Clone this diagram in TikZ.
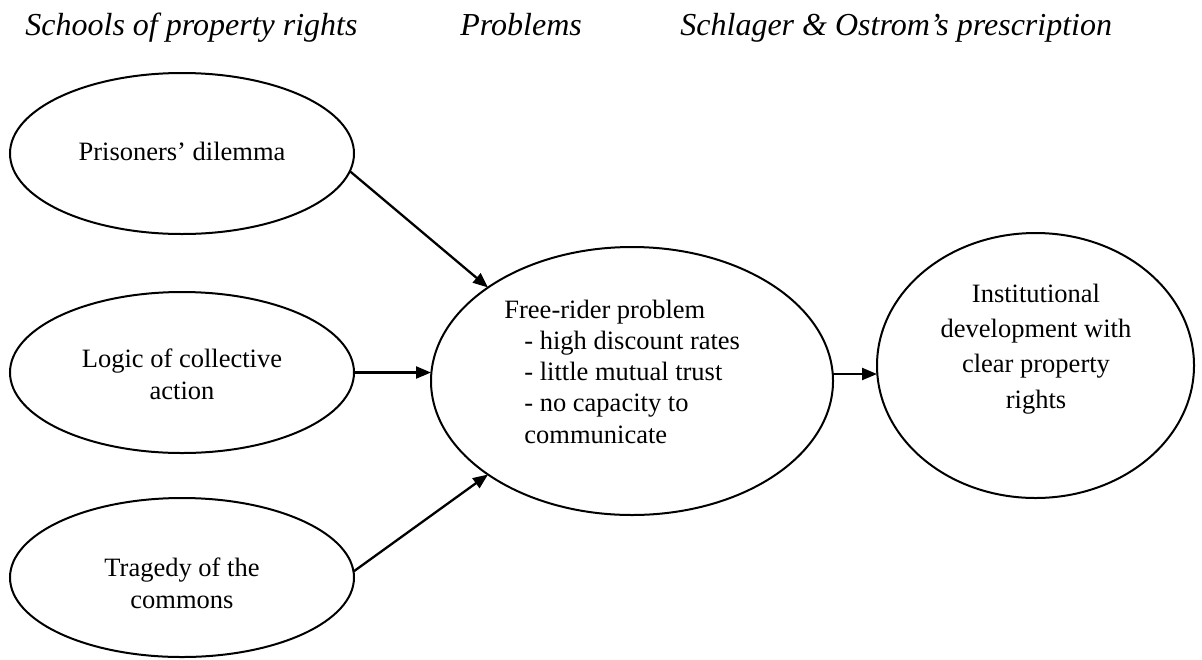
\documentclass[tikz,border=0pt]{standalone}
\usepackage{fontspec}
\setmainfont{Liberation Serif}
\usetikzlibrary{shapes.geometric,arrows.meta}

\tikzset{
  bubble/.style={draw, ellipse, line width=1pt, inner sep=0pt, outer sep=0pt},
  heading/.style={anchor=base west, inner sep=0pt, font=\fontsize{16}{19}\selectfont\itshape},
  label/.style={inner sep=0pt, font=\fontsize{13.25}{15.6}\selectfont},
  link/.style={line width=1.15pt, -{Triangle[length=7.5pt,width=6pt]}}
}

\begin{document}
\begin{tikzpicture}[x=0.5pt, y=-0.5pt]
  \useasboundingbox (0,0) rectangle (1202,659);

  % column headings
  \node[heading] (h1) at (25,35) {Schools of property rights};
  \node[heading] (h2) at (460,35) {Problems};
  \node[heading] (h3) at (680,35) {Schlager \& Ostrom’s prescription};

  % schools of thought
  \node[bubble, minimum width=172pt, minimum height=80.5pt] (pd) at (182,153.5) {};
  \node[bubble, minimum width=172pt, minimum height=80.5pt] (lc) at (182,372.5) {};
  \node[bubble, minimum width=172pt, minimum height=79.5pt] (tc) at (182,577.5) {};

  % the problem and the prescription
  \node[bubble, minimum width=201pt, minimum height=134pt] (fr) at (632,381) {};
  \node[bubble, minimum width=158.5pt, minimum height=132.5pt] (inst) at (1035.5,365.5) {};

  % texts inside the ellipses (base = baseline of the last line)
  \node[label, anchor=base] (pdtext) at (182,160) {Prisoners’ dilemma};
  \node[label, anchor=base, align=center] (lctext) at (182,399) {Logic of collective\\action};
  \node[label, anchor=base, align=center] (tctext) at (182,608) {Tragedy of the\\commons};
  \node[label, anchor=base west, align=left] (frtext) at (504,443)
    {Free-rider problem\\
     \hspace*{10pt}- high discount rates\\
     \hspace*{10pt}- little mutual trust\\
     \hspace*{10pt}- no capacity to\\
     \hspace*{10pt}communicate};
  \node[label, anchor=base, align=center, font=\fontsize{13.25}{17.6}\selectfont] (insttext) at (1036,408)
    {Institutional\\development with\\clear property\\rights};

  % connectors
  \draw[link] (pd.-6.5) -- (fr.147.4);
  \draw[link] (lc.east) -- (fr.west |- lc.east);
  \draw[link] (tc.2.5) -- (fr.213.3);
  \draw[link] (fr.2.3) -- (fr.2.3 -| inst.west);
\end{tikzpicture}
\end{document}
